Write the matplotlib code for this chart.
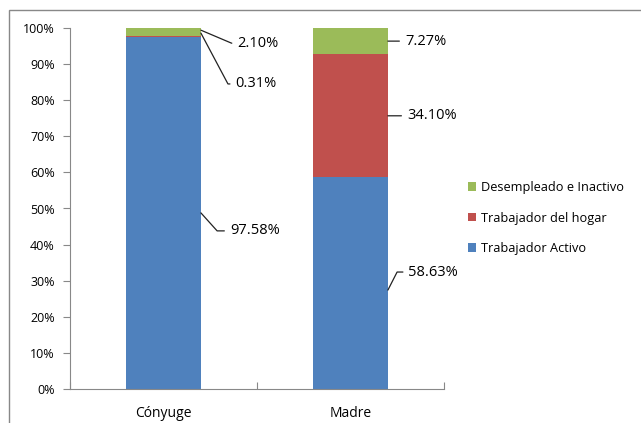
import matplotlib.pyplot as plt
import matplotlib.patches as mpatches
from matplotlib.ticker import FuncFormatter, MultipleLocator

categories = ["Cónyuge", "Madre"]
activo = [97.58, 58.63]
hogar = [0.31, 34.10]
inactivo = [2.10, 7.27]
series_names = ["Trabajador Activo", "Trabajador del hogar", "Desempleado e Inactivo"]
colors = ["#4F81BD", "#C0504D", "#9BBB59"]

plt.rcParams['font.family'] = ['Open Sans', 'DejaVu Sans']

fig = plt.figure(figsize=(6.41, 4.23), dpi=100)
# outer chart border (left and top edges visible)
fig.patches.append(mpatches.Rectangle((9 / 641, -0.05), 1.1, 1 - 10 / 423 + 0.05,
                                      transform=fig.transFigure, fill=False,
                                      edgecolor="#888888", linewidth=1.0))
ax = fig.add_axes([70 / 641, 1 - 389 / 423, (444 - 70) / 641, (389 - 28) / 423])

x = list(range(len(categories)))
w = 0.4
data = [activo, hogar, inactivo]
bottoms = [0.0] * len(categories)
for vals, col, name in zip(data, colors, series_names):
    ax.bar(x, vals, width=w, bottom=bottoms, color=col, label=name, edgecolor="none")
    bottoms = [b + v for b, v in zip(bottoms, vals)]

ax.set_xlim(-0.5, 1.5)
ax.set_ylim(0, 100)
ax.yaxis.set_major_locator(MultipleLocator(10))
ax.yaxis.set_major_formatter(FuncFormatter(lambda v, p: f"{v:.0f}%"))
ax.set_xticks([-0.5, 0.5, 1.5], minor=False)
ax.set_xticklabels([])
ax.set_xticks(x, minor=True)
ax.set_xticklabels(categories, minor=True)
ax.tick_params(axis='x', which='minor', length=0, pad=12, labelsize=10)
ax.tick_params(axis='x', which='major', length=5, color="#888888", direction='in')
ax.tick_params(axis='y', length=5, color="#888888", labelsize=9, pad=6)
for s in ["top", "right"]:
    ax.spines[s].set_visible(False)
for s in ["left", "bottom"]:
    ax.spines[s].set_color("#888888")


def label(val, xy, xytext, angle=None):
    style = "arc3" if angle is None else f"angle,angleA=0,angleB={angle},rad=0"
    ax.annotate(f"{val:.2f}%", xy=xy, xytext=xytext, fontsize=10.5, va="center", ha="left",
                arrowprops=dict(arrowstyle="-", color="#222222", lw=0.9, shrinkA=2, shrinkB=0,
                                relpos=(0, 0.5), connectionstyle=style))


r0 = x[0] + w / 2
r1 = x[1] + w / 2
label(inactivo[0], (r0, 99.4), (0.395, 95.8), -23)
label(hogar[0], (r0, 98.6), (0.385, 84.5), -62)
label(activo[0], (r0, activo[0] / 2), (0.355, 43.8), -48)
label(inactivo[1], (r1, 100 - inactivo[1] / 2), (1.291, 100 - inactivo[1] / 2))
label(hogar[1], (r1, activo[1] + hogar[1] / 2), (1.302, activo[1] + hogar[1] / 2))
label(activo[1], (r1, 27.4), (1.31, 32.4), 63)

handles, labels = ax.get_legend_handles_labels()
fig.legend(handles[::-1], labels[::-1], loc="center left", bbox_to_anchor=(456 / 641, 1 - 218 / 423),
           frameon=False, fontsize=9.2, handlelength=0.7, handleheight=0.7, handletextpad=0.35,
           labelspacing=1.35)

fig.savefig("out.png", dpi=100)
